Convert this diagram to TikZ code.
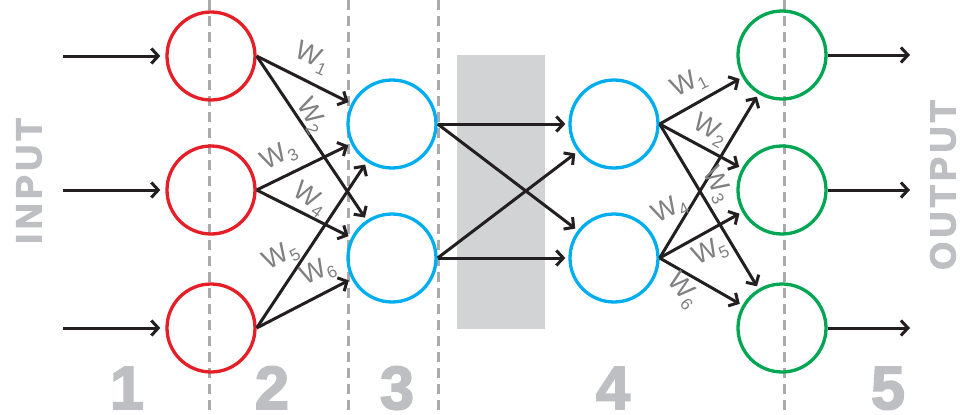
\documentclass[tikz,border=0pt]{standalone}
\usepackage{fontspec}
\setmainfont{Liberation Sans}
\newfontfamily\heavyfont{Liberation Sans Bold}[FakeBold=3]
\usetikzlibrary{arrows.meta}

\definecolor{nred}{RGB}{230,30,40}
\definecolor{nblue}{RGB}{0,174,239}
\definecolor{ngreen}{RGB}{0,166,81}
\definecolor{wgray}{RGB}{128,128,130}
\definecolor{lgray}{RGB}{190,191,195}
\definecolor{dgray}{RGB}{170,170,172}
\definecolor{boxgray}{RGB}{209,211,212}
\definecolor{ink}{RGB}{35,31,32}

\newcommand{\wsub}[1]{W\raisebox{-5pt}{\fontsize{17}{17}\selectfont #1}}

\begin{document}
\begin{tikzpicture}[x=1pt,y=-1pt,
  neuron/.style={circle,draw,line width=3.3pt,minimum size=88pt,inner sep=0pt},
  arr/.style={draw=ink,line width=3pt,-{Straight Barb[length=7pt,width=15pt]},shorten >=3pt},
  dashline/.style={draw=dgray,line width=3pt,dash pattern=on 10pt off 6pt},
  wlab/.style={text=wgray,inner sep=0pt,font=\fontsize{27}{27}\selectfont},
  digit/.style={text=lgray,inner sep=0pt,anchor=base,font=\heavyfont\fontsize{61}{61}\selectfont},
  side/.style={text=lgray,inner sep=0pt,rotate=90,font=\heavyfont\fontsize{36}{36}\selectfont\addfontfeatures{LetterSpace=12}}
]
\useasboundingbox (0,0) rectangle (962,415);

% shaded hidden block
\fill[boxgray] (457,55) rectangle (545,329);

% layer separators
\foreach \x in {209,348,438,784}
  \draw[dashline] (\x,0) -- (\x,415);

% neurons
\node[neuron,draw=nred] (r1) at (211,56) {};
\node[neuron,draw=nred] (r2) at (211,190) {};
\node[neuron,draw=nred] (r3) at (211,328) {};
\node[neuron,draw=nblue] (b1) at (392,124) {};
\node[neuron,draw=nblue] (b2) at (392,258) {};
\node[neuron,draw=nblue] (c1) at (614,124) {};
\node[neuron,draw=nblue] (c2) at (614,258) {};
\node[neuron,draw=ngreen] (g1) at (782,55) {};
\node[neuron,draw=ngreen] (g2) at (782,190) {};
\node[neuron,draw=ngreen] (g3) at (782,328) {};

% inputs and outputs
\coordinate (i1) at (63,56);
\coordinate (i2) at (63,190);
\coordinate (i3) at (63,328);
\coordinate (o1) at (910,55);
\coordinate (o2) at (910,190);
\coordinate (o3) at (910,328);
\foreach \n in {1,2,3} {
  \draw[arr,shorten >=5pt] (i\n) -- (r\n);
  \draw[arr,shorten >=0pt] (g\n) -- (o\n);
}

% input layer to first hidden layer
\foreach \s in {r1,r2,r3}
  \foreach \t in {b1,b2}
    \draw[arr] (\s.east) -- (\t);

% across the hidden block
\draw[arr] (b1.east) -- (c1.west);
\draw[arr] (b2.east) -- (c2.west);
\draw[arr] (b1.east) -- (c2);
\draw[arr] (b2.east) -- (c1);

% last hidden layer to outputs
\foreach \s in {c1,c2}
  \foreach \t in {g1,g2,g3}
    \draw[arr] (\s.east) -- (\t);

% weights, left
\node[wlab,rotate=-25] (wa1) at (312,58) {\wsub{1}};
\node[wlab,rotate=-60] (wa2) at (311,116) {\wsub{2}};
\node[wlab,rotate=28]  (wa3) at (279,156) {\wsub{3}};
\node[wlab,rotate=-35] (wa4) at (310,199) {\wsub{4}};
\node[wlab,rotate=28]  (wa5) at (281,256) {\wsub{5}};
\node[wlab,rotate=25]  (wa6) at (318,272) {\wsub{6}};

% weights, right
\node[wlab,rotate=27]  (wb1) at (689,84) {\wsub{1}};
\node[wlab,rotate=-30] (wb2) at (710,130) {\wsub{2}};
\node[wlab,rotate=-62] (wb3) at (717,185) {\wsub{3}};
\node[wlab,rotate=27]  (wb4) at (670,210) {\wsub{4}};
\node[wlab,rotate=25]  (wb5) at (710,252) {\wsub{5}};
\node[wlab,rotate=-50] (wb6) at (683,291) {\wsub{6}};

% layer numbers
\node[digit] (n1) at (127,409) {1};
\node[digit] (n2) at (272,409) {2};
\node[digit] (n3) at (397,409) {3};
\node[digit] (n4) at (613,409) {4};
\node[digit] (n5) at (888,409) {5};

% side captions
\node[side] (inp) at (29,181) {INPUT};
\node[side] (outp) at (943,185) {OUTPUT};
\end{tikzpicture}
\end{document}
